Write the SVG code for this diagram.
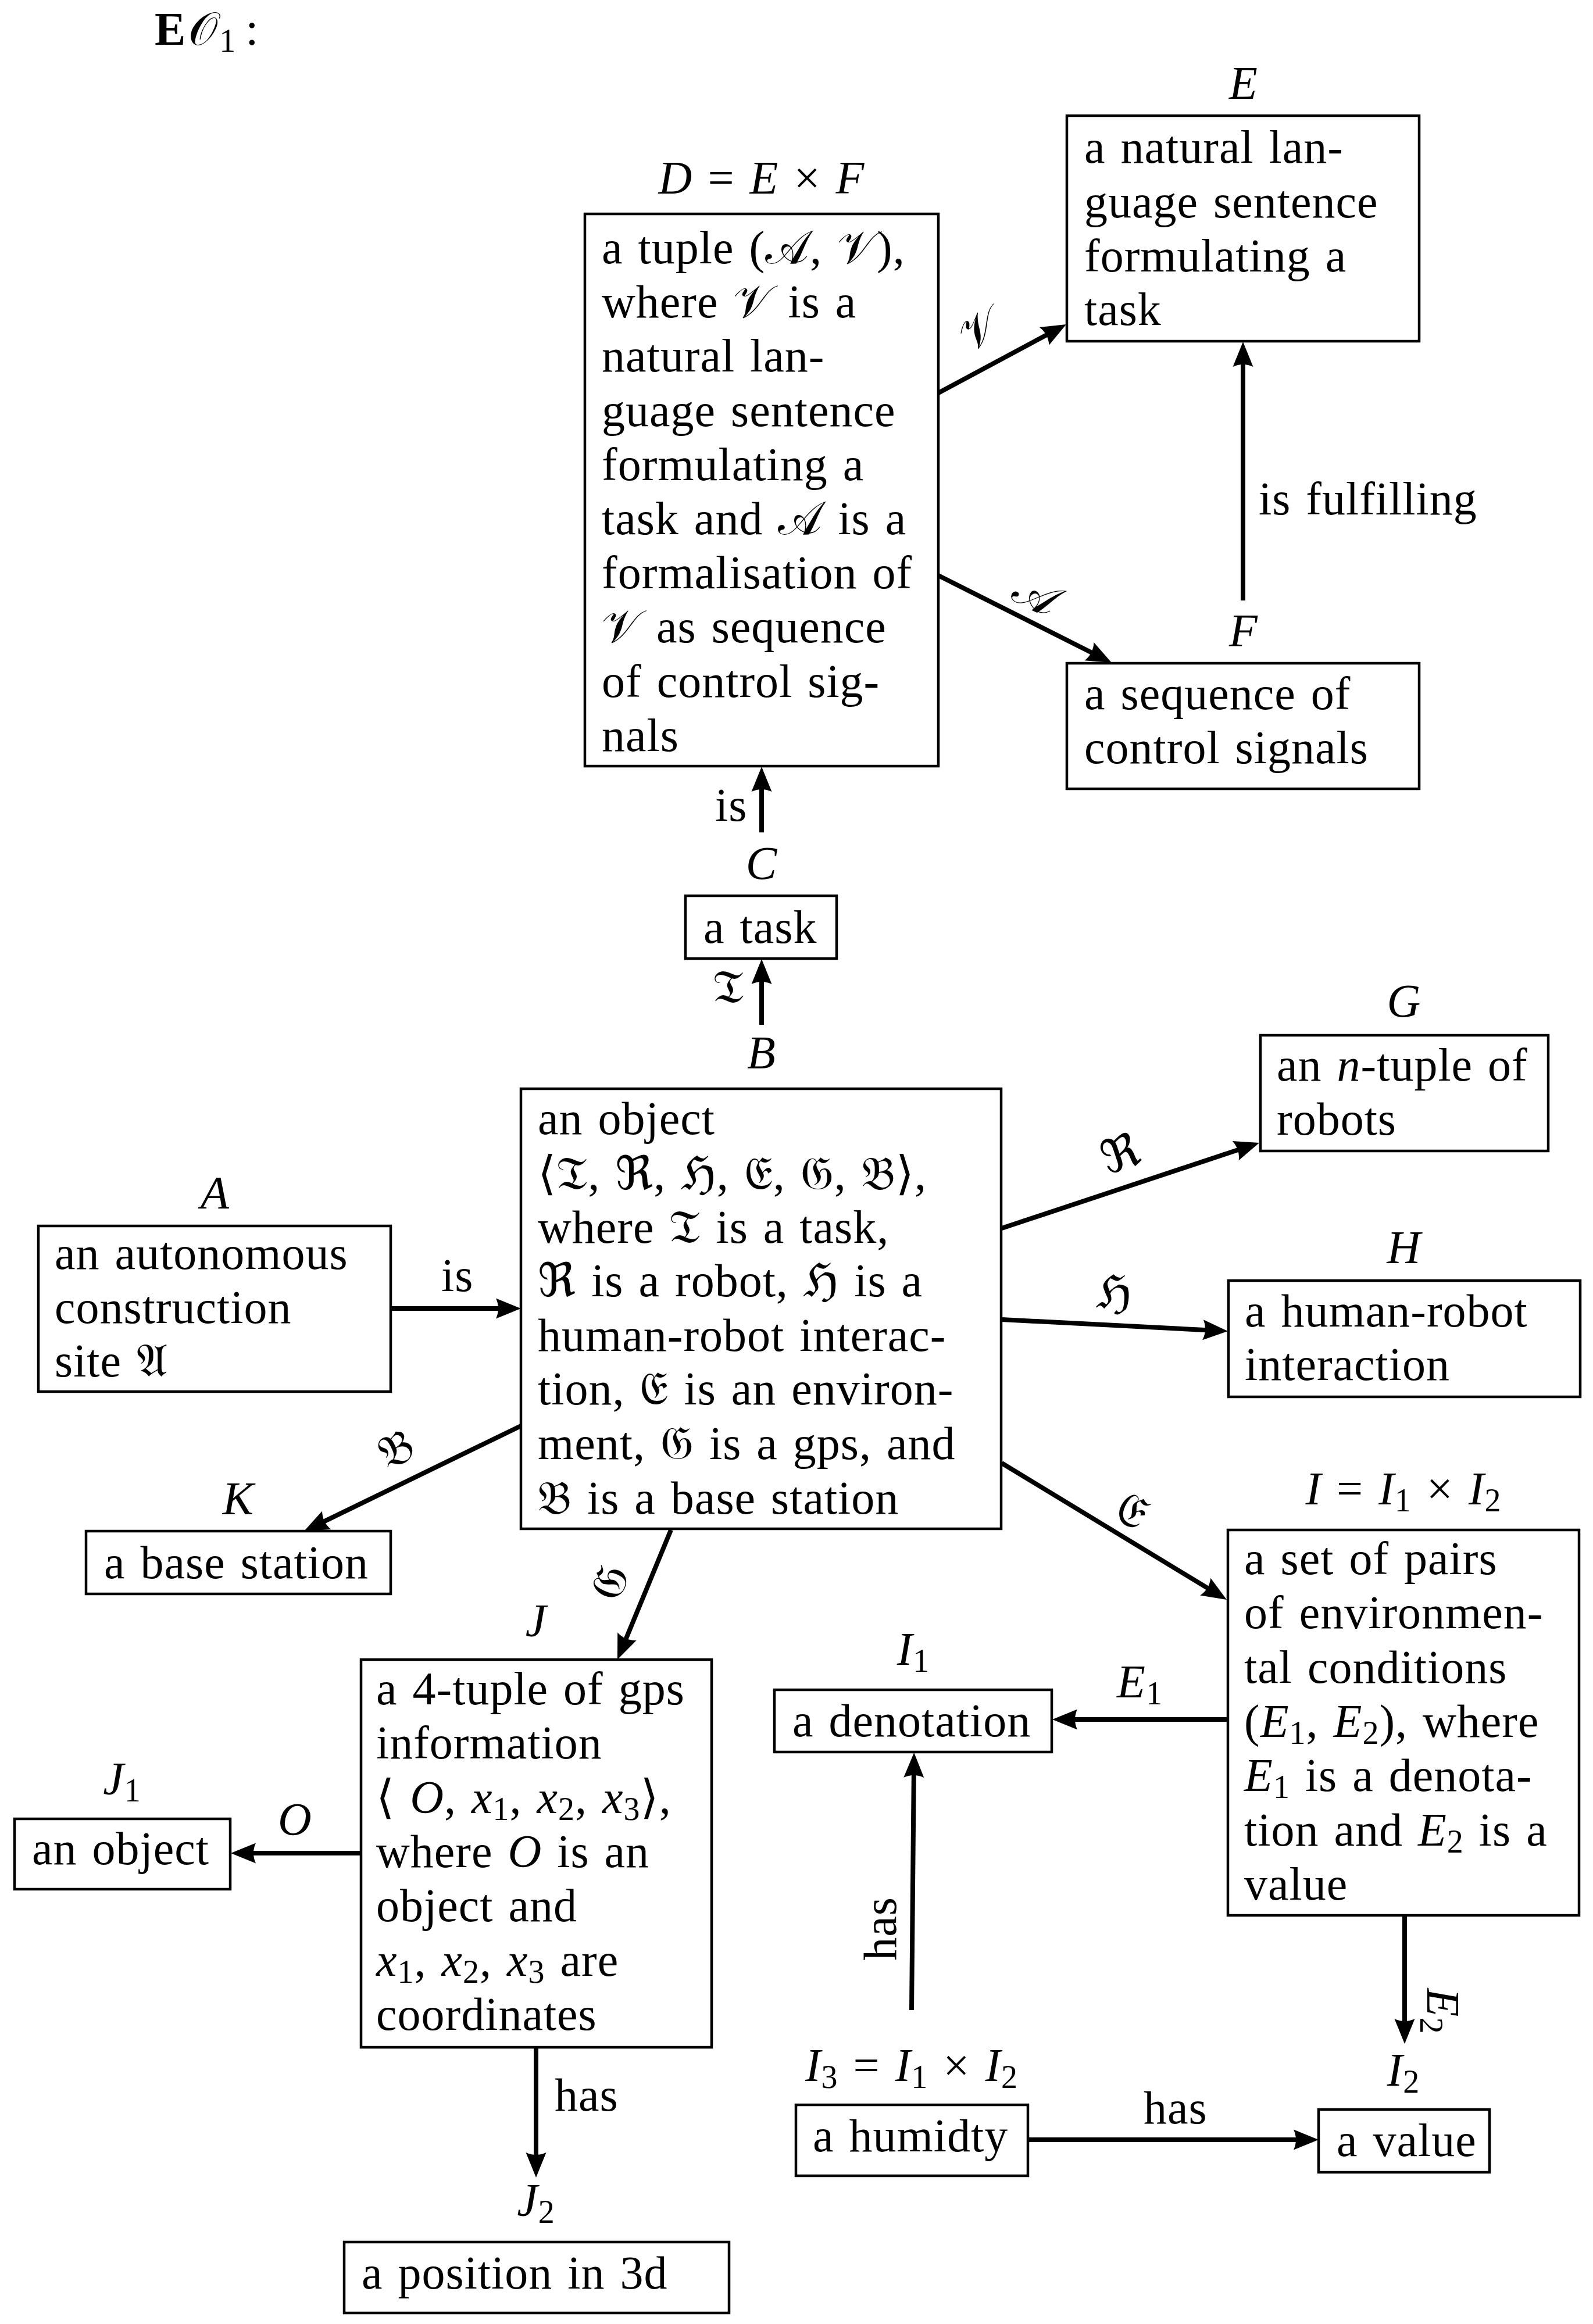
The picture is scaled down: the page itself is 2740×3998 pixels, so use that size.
<svg xmlns="http://www.w3.org/2000/svg" width="2740" height="3998" viewBox="0 0 2740 3998">
<style>
text{font-family:"Liberation Serif","DejaVu Serif",serif;font-size:80px;fill:#000;word-spacing:5px;letter-spacing:1px}
.i{font-style:italic}
.m{font-family:"DejaVu Serif","DejaVu Sans",serif;font-style:normal}
.s{font-size:56px}
.box{fill:#fff;stroke:#000;stroke-width:4.5}
.edge{stroke:#000;stroke-width:8;fill:none;marker-end:url(#ah)}
</style>
<defs>
<marker id="ah" markerUnits="userSpaceOnUse" markerWidth="50" markerHeight="40" refX="23" refY="20" orient="auto" overflow="visible">
<path d="M43,20 L0,2.5 Q8,20 0,37.5 Z" fill="#000"/>
</marker>
</defs>
<rect width="2740" height="3998" fill="#fff"/>
<g id="title"><text x="266" y="77"><tspan font-weight="bold">E</tspan><tspan class="m" dx="4">𝒪</tspan><tspan class="s" dy="12" dx="2">1</tspan><tspan dy="-12" dx="16">:</tspan></text></g>

<g id="connectors">
<line class="edge" x1="672" y1="2251" x2="876" y2="2251"/>
<line class="edge" x1="1310" y1="1763" x2="1310" y2="1670"/>
<line class="edge" x1="1310" y1="1432" x2="1310" y2="1339"/>
<line class="edge" x1="1614" y1="676" x2="1816.4" y2="567.5"/>
<line class="edge" x1="1614" y1="990" x2="1894.1" y2="1131"/>
<line class="edge" x1="2138" y1="1033" x2="2138" y2="608"/>
<line class="edge" x1="1723" y1="2113" x2="2147" y2="1972.3"/>
<line class="edge" x1="1723" y1="2270" x2="2092" y2="2289"/>
<line class="edge" x1="1723" y1="2517" x2="2092.9" y2="2741.6"/>
<line class="edge" x1="896" y1="2453" x2="541" y2="2625.3"/>
<line class="edge" x1="1154" y1="2632" x2="1069.6" y2="2836.5"/>
<line class="edge" x1="621" y1="3188" x2="417" y2="3188"/>
<line class="edge" x1="922" y1="3522" x2="922" y2="3726"/>
<line class="edge" x1="2112" y1="2958" x2="1830" y2="2958"/>
<line class="edge" x1="2416" y1="3295" x2="2416" y2="3496"/>
<line class="edge" x1="1568" y1="3458" x2="1572" y2="3035"/>
<line class="edge" x1="1768" y1="3681" x2="2248" y2="3681"/>
<text x="759" y="2221">is</text>
<text x="1280" y="1725" text-anchor="end" class="m">𝔗</text>
<text x="1230" y="1412">is</text>
<g transform="translate(1684,566) rotate(-28)"><text x="0" y="28" text-anchor="middle" class="m" font-size="88">𝒱</text></g>
<g transform="translate(1783,1022) rotate(26.6)"><text x="0" y="28" text-anchor="middle" class="m" font-size="88">𝒜</text></g>
<text x="2165" y="885">is fulfilling</text>
<g transform="translate(1928,1987) rotate(-18.6)"><text x="0" y="25" text-anchor="middle" class="m">ℜ</text></g>
<g transform="translate(1917,2226) rotate(3)"><text x="0" y="25" text-anchor="middle" class="m">ℌ</text></g>
<g transform="translate(1946,2601) rotate(31.5)"><text x="0" y="25" text-anchor="middle" class="m">𝔈</text></g>
<g transform="translate(683,2495) rotate(-25.8)"><text x="0" y="25" text-anchor="middle" class="m">𝔅</text></g>
<g transform="translate(1051,2723) rotate(-67)"><text x="0" y="25" text-anchor="middle" class="m">𝔊</text></g>
<text x="478" y="3157" class="i">O</text>
<text x="954" y="3631">has</text>
<text x="1921" y="2920"><tspan class="i">E</tspan><tspan class="s" dy="12">1</tspan></text>
<g transform="translate(2479,3460) rotate(90)"><text x="0" y="24" text-anchor="middle"><tspan class="i">E</tspan><tspan class="s" dy="12">2</tspan></text></g>
<g transform="translate(1513,3318) rotate(-90)"><text x="0" y="28" text-anchor="middle">has</text></g>
<text x="1967" y="3653">has</text>
</g>

<g id="node-D">
<text x="1310" y="333" text-anchor="middle"><tspan class="i">D</tspan> = <tspan class="i">E</tspan> × <tspan class="i">F</tspan></text>
<rect class="box" x="1006" y="368" width="608" height="950"/>
<text x="1035" y="453">a tuple (<tspan class="m">𝒜</tspan>, <tspan class="m">𝒱</tspan>),</text>
<text x="1035" y="546">where <tspan class="m">𝒱</tspan> is a</text>
<text x="1035" y="639">natural lan-</text>
<text x="1035" y="733">guage sentence</text>
<text x="1035" y="826">formulating a</text>
<text x="1035" y="919">task and <tspan class="m">𝒜</tspan> is a</text>
<text x="1035" y="1012">formalisation of</text>
<text x="1035" y="1105"><tspan class="m">𝒱</tspan> as sequence</text>
<text x="1035" y="1199">of control sig-</text>
<text x="1035" y="1292">nals</text>
</g>

<g id="node-E">
<text x="2139" y="170" text-anchor="middle" class="i">E</text>
<rect class="box" x="1835" y="199" width="606" height="388"/>
<text x="1865" y="280">a natural lan-</text>
<text x="1865" y="374">guage sentence</text>
<text x="1865" y="467">formulating a</text>
<text x="1865" y="559">task</text>
</g>

<g id="node-F">
<text x="2139" y="1112" text-anchor="middle" class="i">F</text>
<rect class="box" x="1835" y="1141" width="606" height="216"/>
<text x="1865" y="1220">a sequence of</text>
<text x="1865" y="1313">control signals</text>
</g>

<g id="node-C">
<text x="1310" y="1512" text-anchor="middle" class="i">C</text>
<rect class="box" x="1179" y="1541" width="260" height="108"/>
<text x="1210" y="1622">a task</text>
</g>

<g id="node-B">
<text x="1310" y="1838" text-anchor="middle" class="i">B</text>
<rect class="box" x="896" y="1873" width="826" height="757"/>
<text x="925" y="1951">an object</text>
<text x="925" y="2046">⟨<tspan class="m">𝔗</tspan>, <tspan class="m">ℜ</tspan>, <tspan class="m">ℌ</tspan>, <tspan class="m">𝔈</tspan>, <tspan class="m">𝔊</tspan>, <tspan class="m">𝔅</tspan>⟩,</text>
<text x="925" y="2138">where <tspan class="m">𝔗</tspan> is a task,</text>
<text x="925" y="2230"><tspan class="m">ℜ</tspan> is a robot, <tspan class="m">ℌ</tspan> is a</text>
<text x="925" y="2324">human-robot interac-</text>
<text x="925" y="2416">tion, <tspan class="m">𝔈</tspan> is an environ-</text>
<text x="925" y="2510">ment, <tspan class="m">𝔊</tspan> is a gps, and</text>
<text x="925" y="2604"><tspan class="m">𝔅</tspan> is a base station</text>
</g>

<g id="node-A">
<text x="370" y="2079" text-anchor="middle" class="i">A</text>
<rect class="box" x="66" y="2109" width="606" height="285"/>
<text x="94" y="2183">an autonomous</text>
<text x="94" y="2276">construction</text>
<text x="94" y="2368">site <tspan class="m">𝔄</tspan></text>
</g>

<g id="node-K">
<text x="410" y="2605" text-anchor="middle" class="i">K</text>
<rect class="box" x="148" y="2634" width="524" height="108"/>
<text x="179" y="2715">a base station</text>
</g>

<g id="node-G">
<text x="2415" y="1749" text-anchor="middle" class="i">G</text>
<rect class="box" x="2168" y="1781" width="495" height="199"/>
<text x="2196" y="1859">an <tspan class="i">n</tspan>-tuple of</text>
<text x="2196" y="1952">robots</text>
</g>

<g id="node-H">
<text x="2415" y="2173" text-anchor="middle" class="i">H</text>
<rect class="box" x="2113" y="2203" width="605" height="200"/>
<text x="2141" y="2282">a human-robot</text>
<text x="2141" y="2374">interaction</text>
</g>

<g id="node-I">
<text x="2414" y="2588" text-anchor="middle"><tspan class="i">I</tspan> = <tspan class="i">I</tspan><tspan class="s" dy="12">1</tspan><tspan dy="-12"> × </tspan><tspan class="i">I</tspan><tspan class="s" dy="12">2</tspan></text>
<rect class="box" x="2112" y="2632" width="604" height="663"/>
<text x="2140" y="2708">a set of pairs</text>
<text x="2140" y="2801">of environmen-</text>
<text x="2140" y="2895">tal conditions</text>
<text x="2140" y="2988">(<tspan class="i">E</tspan><tspan class="s" dy="12">1</tspan><tspan dy="-12">, </tspan><tspan class="i">E</tspan><tspan class="s" dy="12">2</tspan><tspan dy="-12">), where</tspan></text>
<text x="2140" y="3081"><tspan class="i">E</tspan><tspan class="s" dy="12">1</tspan><tspan dy="-12"> is a denota-</tspan></text>
<text x="2140" y="3175">tion and <tspan class="i">E</tspan><tspan class="s" dy="12">2</tspan><tspan dy="-12"> is a</tspan></text>
<text x="2140" y="3268">value</text>
</g>

<g id="node-I1">
<text x="1571" y="2864" text-anchor="middle"><tspan class="i">I</tspan><tspan class="s" dy="12">1</tspan></text>
<rect class="box" x="1332" y="2907" width="477" height="107"/>
<text x="1363" y="2987">a denotation</text>
</g>

<g id="node-I2">
<text x="2414" y="3588" text-anchor="middle"><tspan class="i">I</tspan><tspan class="s" dy="12">2</tspan></text>
<rect class="box" x="2268" y="3629" width="294" height="108"/>
<text x="2299" y="3709">a value</text>
</g>

<g id="node-I3">
<text x="1568" y="3580" text-anchor="middle"><tspan class="i">I</tspan><tspan class="s" dy="12">3</tspan><tspan dy="-12"> = </tspan><tspan class="i">I</tspan><tspan class="s" dy="12">1</tspan><tspan dy="-12"> × </tspan><tspan class="i">I</tspan><tspan class="s" dy="12">2</tspan></text>
<rect class="box" x="1369" y="3621" width="399" height="122"/>
<text x="1398" y="3701">a humidty</text>
</g>

<g id="node-J">
<text x="922" y="2815" text-anchor="middle" class="i">J</text>
<rect class="box" x="621" y="2855" width="603" height="667"/>
<text x="647" y="2932">a 4-tuple of gps</text>
<text x="647" y="3025">information</text>
<text x="647" y="3119">⟨ <tspan class="i">O</tspan>, <tspan class="i">x</tspan><tspan class="s" dy="12">1</tspan><tspan dy="-12">, </tspan><tspan class="i">x</tspan><tspan class="s" dy="12">2</tspan><tspan dy="-12">, </tspan><tspan class="i">x</tspan><tspan class="s" dy="12">3</tspan><tspan dy="-12">⟩,</tspan></text>
<text x="647" y="3212">where <tspan class="i">O</tspan> is an</text>
<text x="647" y="3305">object and</text>
<text x="647" y="3399"><tspan class="i">x</tspan><tspan class="s" dy="12">1</tspan><tspan dy="-12">, </tspan><tspan class="i">x</tspan><tspan class="s" dy="12">2</tspan><tspan dy="-12">, </tspan><tspan class="i">x</tspan><tspan class="s" dy="12">3</tspan><tspan dy="-12"> are</tspan></text>
<text x="647" y="3492">coordinates</text>
</g>

<g id="node-J1">
<text x="210" y="3087" text-anchor="middle"><tspan class="i">J</tspan><tspan class="s" dy="12">1</tspan></text>
<rect class="box" x="25" y="3129" width="371" height="121"/>
<text x="55" y="3207">an object</text>
</g>

<g id="node-J2">
<text x="922" y="3812" text-anchor="middle"><tspan class="i">J</tspan><tspan class="s" dy="12">2</tspan></text>
<rect class="box" x="592" y="3857" width="662" height="122"/>
<text x="622" y="3937">a position in 3d</text>
</g>
</svg>
